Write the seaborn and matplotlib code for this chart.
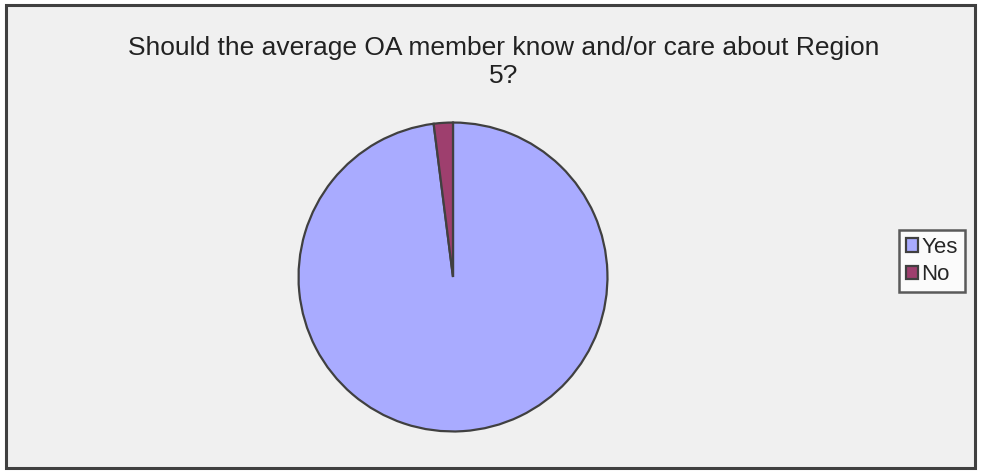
import matplotlib
matplotlib.use("Agg")
import matplotlib.pyplot as plt
import seaborn as sns
from matplotlib.patches import Rectangle

# Data
labels = ["Yes", "No"]
values = [98, 2]
colors = ["#a9abff", "#9e3f6e"]
title = "Should the average OA member know and/or care about Region\n5?"

sns.set_style("white")
plt.rcParams['font.family'] = ['Liberation Sans', 'DejaVu Sans']

W, H = 981, 473
fig = plt.figure(figsize=(W / 100, H / 100), dpi=100)
fig.patch.set_facecolor("white")

# chart area frame
fig.patches.append(Rectangle((6 / W, 5 / H), 969 / W, 463 / H, transform=fig.transFigure,
                             facecolor="#f0f0f0", edgecolor="#404040", linewidth=2.2, zorder=-1))

# pie
cx, cy, r = 453, 277, 156
ax = fig.add_axes([(cx - r) / W, (H - cy - r) / H, 2 * r / W, 2 * r / H])
ax.set_zorder(2)
ax.patch.set_visible(False)
wedges, _ = ax.pie(values, colors=colors, startangle=90, counterclock=False,
                   wedgeprops=dict(edgecolor="#404040", linewidth=1.6))
ax.set_xlim(-1.01, 1.01)
ax.set_ylim(-1.01, 1.01)
ax.set_aspect("auto")
ax.axis("off")

fig.text(504 / W, 1 - 62 / H, title, ha="center", va="center", fontsize=19,
         color="#222222", linespacing=1.25)

leg = fig.legend(wedges, labels, loc="center", bbox_to_anchor=(932 / W, 1 - 261 / H),
                 fontsize=16, frameon=True, fancybox=False, edgecolor="#333333",
                 handlelength=0.55, handleheight=0.55, handletextpad=0.15,
                 borderpad=0.3, labelspacing=0.3, borderaxespad=0)
leg.set_zorder(3)
leg.get_frame().set_linewidth(1.8)
leg.get_frame().set_facecolor("white")

fig.savefig("out.png", dpi=100)
